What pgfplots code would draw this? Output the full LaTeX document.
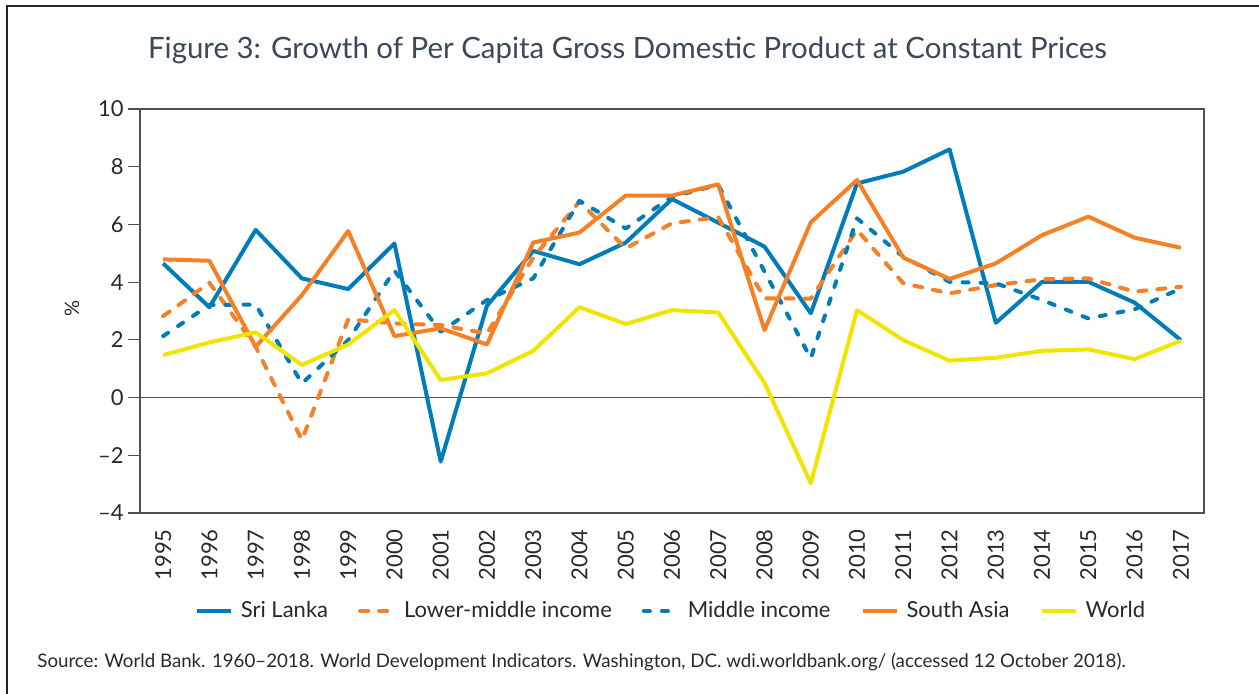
\documentclass[border=0pt]{standalone}
\usepackage{fontspec}
\setmainfont{Lato}
\usepackage{pgfplots}
\pgfplotsset{compat=1.18}
\usepackage{pgfplotstable}
\definecolor{slblue}{RGB}{0,124,186}
\definecolor{saorange}{RGB}{245,128,38}
\definecolor{wyellow}{RGB}{240,228,0}
\definecolor{axisgray}{RGB}{80,80,80}
\definecolor{titlecol}{RGB}{58,72,88}
\definecolor{textcol}{RGB}{40,40,40}

\pgfplotstableread{
x sl lmi mi sa w
0 4.65 2.82 2.13 4.79 1.47
1 3.13 3.98 3.21 4.74 1.91
2 5.81 1.76 3.22 1.76 2.26
3 4.13 -1.47 0.49 3.55 1.13
4 3.76 2.71 1.99 5.77 1.84
5 5.34 2.57 4.40 2.13 3.03
6 -2.22 2.51 2.28 2.40 0.61
7 3.18 2.22 3.38 1.84 0.84
8 5.08 4.85 4.13 5.37 1.62
9 4.62 6.79 6.82 5.72 3.13
10 5.37 5.17 5.86 7.00 2.55
11 6.88 6.04 6.96 7.00 3.03
12 6.06 6.25 7.37 7.39 2.95
13 5.23 3.44 4.37 2.34 0.51
14 2.92 3.43 1.36 6.07 -2.97
15 7.42 5.81 6.21 7.54 3.03
16 7.83 3.96 4.88 4.85 1.99
17 8.60 3.61 4.01 4.11 1.28
18 2.59 3.90 3.96 4.65 1.38
19 4.01 4.10 3.38 5.63 1.62
20 4.01 4.13 2.74 6.27 1.67
21 3.29 3.67 3.06 5.54 1.33
22 1.99 3.84 3.78 5.19 1.97
}\data

\begin{document}
\begin{tikzpicture}
\useasboundingbox (0,0) rectangle (629.5pt,-347pt);
\draw[line width=1pt, color=black!85] (3.5pt,-347.5pt) -- (3.5pt,-3pt) -- (630pt,-3pt);
\node[anchor=center, text=titlecol, font=\fontsize{14.7}{16}\selectfont] at (313.75pt,-25pt) {Figure 3: Growth of Per Capita Gross Domestic Product at Constant Prices};
\node[anchor=base west, text=textcol, font=\fontsize{9.35}{11}\selectfont, inner sep=0pt] at (18.5pt,-334pt) {Source: World Bank. 1960–2018. World Development Indicators. Washington, DC. wdi.worldbank.org/ (accessed 12 October 2018).};
\begin{axis}[
  at={(70pt,-256.5pt)}, anchor=south west,
  scale only axis, width=532pt, height=202pt,
  xmin=-0.5, xmax=22.5, ymin=-4, ymax=10,
  ytick={-4,-2,0,2,4,6,8,10},
  yticklabels={–4,–2,0,2,4,6,8,10},
  xtick={0,...,22},
  xticklabels={1995,1996,1997,1998,1999,2000,2001,2002,2003,2004,2005,2006,2007,2008,2009,2010,2011,2012,2013,2014,2015,2016,2017},
  x tick label style={rotate=90, anchor=east, inner sep=2pt},
  xtick style={draw=none},
  ytick pos=left,
  tick align=outside,
  major tick length=6pt,
  ytick style={color=axisgray, line width=0.6pt},
  tick label style={font=\fontsize{11}{12}\selectfont, text=textcol},
  y tick label style={inner sep=2pt},
  axis line style={color=axisgray, line width=0.6pt},
  extra y ticks={0}, extra y tick labels={},
  extra y tick style={grid=major, major grid style={color=axisgray, line width=0.6pt}, tick style={draw=none}},
  ylabel={\%},
  ylabel style={at={(axis description cs:-0.064,0.507)}, anchor=center, font=\fontsize{10}{12}\selectfont, text=textcol},
  legend columns=5,
  legend style={draw=none, at={(0.5,-0.2426)}, anchor=center, font=\fontsize{11}{12}\selectfont, text=textcol,
    /tikz/every even column/.append style={column sep=13pt},
    /tikz/every odd column/.append style={column sep=2pt}},
  legend image code/.code={\draw[#1] (0pt,0pt) -- (17pt,0pt);},
  every axis plot/.append style={line width=2pt, line join=round},
]
\addplot[slblue] table[x=x,y=sl] {\data};
\addlegendentry{Sri Lanka}
\addplot[saorange, line cap=round, dash pattern=on 4pt off 5.5pt] table[x=x,y=lmi] {\data};
\addlegendentry{Lower-middle income}
\addplot[slblue, line cap=round, dash pattern=on 3pt off 6pt] table[x=x,y=mi] {\data};
\addlegendentry{Middle income}
\addplot[saorange] table[x=x,y=sa] {\data};
\addlegendentry{South Asia}
\addplot[wyellow] table[x=x,y=w] {\data};
\addlegendentry{World}
\end{axis}
\end{tikzpicture}
\end{document}
